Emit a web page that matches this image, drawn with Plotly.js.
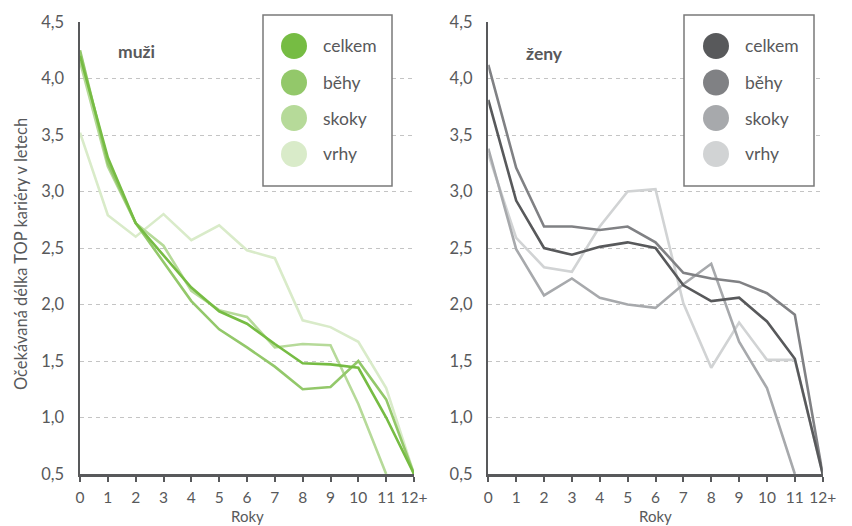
<!DOCTYPE html>
<html>
<head>
<meta charset="utf-8">
<script src="https://cdn.plot.ly/plotly-3.0.1.min.js"></script>
<style>html,body{margin:0;padding:0;background:#fff;}#chart{width:852px;height:526px;}</style>
</head>
<body>
<div id="chart"></div>
<script>
const years = [0,1,2,3,4,5,6,7,8,9,10,11,12];
const tickLabels = ['0','1','2','3','4','5','6','7','8','9','10','11','12+'];
const seriesNames = ['celkem','běhy','skoky','vrhy'];

const muziCelkem = [4.20, 3.30, 2.72, 2.44, 2.15, 1.94, 1.83, 1.65, 1.48, 1.47, 1.44, 1.00, 0.50];
const muziBehy   = [4.25, 3.25, 2.72, 2.37, 2.03, 1.78, 1.62, 1.45, 1.25, 1.27, 1.50, 1.16, 0.50];
const muziSkoky  = [4.15, 3.22, 2.72, 2.52, 2.12, 1.95, 1.89, 1.62, 1.65, 1.64, 1.12, 0.50, null];
const muziVrhy   = [3.52, 2.79, 2.60, 2.80, 2.57, 2.70, 2.48, 2.41, 1.86, 1.80, 1.67, 1.26, 0.50];

const zenyCelkem = [3.81, 2.92, 2.50, 2.44, 2.51, 2.55, 2.50, 2.17, 2.03, 2.06, 1.85, 1.52, 0.50];
const zenyBehy   = [4.12, 3.21, 2.69, 2.69, 2.66, 2.69, 2.55, 2.28, 2.23, 2.20, 2.10, 1.91, 0.50];
const zenySkoky  = [3.38, 2.49, 2.08, 2.23, 2.06, 2.00, 1.97, 2.18, 2.36, 1.67, 1.26, 0.50, null];
const zenyVrhy   = [3.33, 2.59, 2.33, 2.29, 2.69, 3.00, 3.02, 2.01, 1.44, 1.84, 1.51, 1.51, 0.50];

const greens = ['#76bc43','#93c86a','#b6da99','#d9ebc9'];
const greys  = ['#58595b','#808184','#a7a9ac','#d1d3d4'];

const W = 852, H = 526;
const px = v => v / W;
const py = v => 1 - v / H;

const FONT = 'Lato, "Open Sans", sans-serif';
const TXT = '#58595b';

const muzi = [muziCelkem, muziBehy, muziSkoky, muziVrhy];
const zeny = [zenyCelkem, zenyBehy, zenySkoky, zenyVrhy];

const traces = [];
for (let i = 3; i >= 0; i--) {
  traces.push({x: years, y: muzi[i], type: 'scatter', mode: 'lines', name: seriesNames[i],
    line: {color: greens[i], width: 2.6}, xaxis: 'x', yaxis: 'y', showlegend: false, cliponaxis: true});
}
for (let i = 3; i >= 0; i--) {
  traces.push({x: years, y: zeny[i], type: 'scatter', mode: 'lines', name: seriesNames[i],
    line: {color: greys[i], width: 2.6}, xaxis: 'x2', yaxis: 'y2', showlegend: false, cliponaxis: true});
}

function xAxis(domain, anchor) {
  return {
    domain: domain, anchor: anchor, range: [0, 12], fixedrange: true,
    tickvals: years, ticktext: tickLabels,
    ticks: 'outside', ticklen: 5, tickwidth: 2, tickcolor: '#58595b',
    showline: true, linecolor: '#58595b', linewidth: 2.5,
    showgrid: false, zeroline: false,
    tickfont: {family: FONT, size: 15.5, color: TXT}, ticklabelstandoff: 3
  };
}
function yAxis(anchor) {
  return {
    domain: [52/H, 504/H], anchor: anchor, range: [0.5, 4.5], fixedrange: true,
    dtick: 0.5, tick0: 0.5, tickformat: '.1f',
    showline: true, linecolor: '#58595b', linewidth: 2.5,
    showgrid: true, gridcolor: '#c4c4c4', gridwidth: 1, griddash: '4px,4px',
    zeroline: false, ticks: '',
    tickfont: {family: FONT, size: 16.5, color: TXT}, ticklabelstandoff: 10
  };
}

const shapes = [];
const annotations = [];

function legend(boxL, boxR, cx, names, colors) {
  shapes.push({type: 'rect', xref: 'paper', yref: 'paper',
    x0: px(boxL), x1: px(boxR), y0: py(186), y1: py(15),
    line: {color: '#7a7a7a', width: 1.5}, fillcolor: 'rgba(255,255,255,1)', layer: 'above'});
  const ys = [46, 82.5, 118, 154];
  names.forEach((n, i) => {
    shapes.push({type: 'circle', xref: 'paper', yref: 'paper',
      xsizemode: 'pixel', ysizemode: 'pixel', xanchor: px(cx), yanchor: py(ys[i]),
      x0: -13, x1: 13, y0: -13, y1: 13,
      fillcolor: colors[i], line: {width: 0}, layer: 'above'});
    annotations.push({xref: 'paper', yref: 'paper', x: px(cx + 27), y: py(ys[i]),
      xanchor: 'left', yanchor: 'middle', text: n, showarrow: false,
      font: {family: FONT, size: 17.5, color: TXT}});
  });
}
legend(263, 392, 294, seriesNames, greens);
legend(684, 814, 716, seriesNames, greys);

annotations.push({xref: 'paper', yref: 'paper', x: px(116), y: py(52), xanchor: 'left', yanchor: 'middle',
  text: '<b>muži</b>', showarrow: false, font: {family: FONT, size: 17.5, color: TXT}});
annotations.push({xref: 'paper', yref: 'paper', x: px(524), y: py(53), xanchor: 'left', yanchor: 'middle',
  text: '<b>ženy</b>', showarrow: false, font: {family: FONT, size: 17.5, color: TXT}});
annotations.push({xref: 'paper', yref: 'paper', x: px(247), y: py(526), xanchor: 'center', yanchor: 'bottom',
  text: 'Roky', showarrow: false, borderpad: 0, font: {family: FONT, size: 15, color: TXT}});
annotations.push({xref: 'paper', yref: 'paper', x: px(655), y: py(526), xanchor: 'center', yanchor: 'bottom',
  text: 'Roky', showarrow: false, borderpad: 0, font: {family: FONT, size: 15, color: TXT}});
annotations.push({xref: 'paper', yref: 'paper', x: px(21), y: py(254), xanchor: 'center', yanchor: 'middle',
  text: 'Očekávaná délka TOP kariéry v letech', textangle: -90, showarrow: false,
  font: {family: FONT, size: 16.5, color: TXT}});

const layout = {
  width: W, height: H, margin: {l: 0, r: 0, t: 0, b: 0},
  paper_bgcolor: '#ffffff', plot_bgcolor: '#ffffff',
  separators: ',.',
  showlegend: false,
  xaxis: xAxis([80/W, 414/W], 'y'),
  yaxis: yAxis('x'),
  xaxis2: xAxis([488.3/W, 822.7/W], 'y2'),
  yaxis2: yAxis('x2'),
  shapes: shapes,
  annotations: annotations,
  font: {family: FONT, color: TXT}
};

Plotly.newPlot('chart', traces, layout, {displayModeBar: false, staticPlot: true});
</script>
</body>
</html>
